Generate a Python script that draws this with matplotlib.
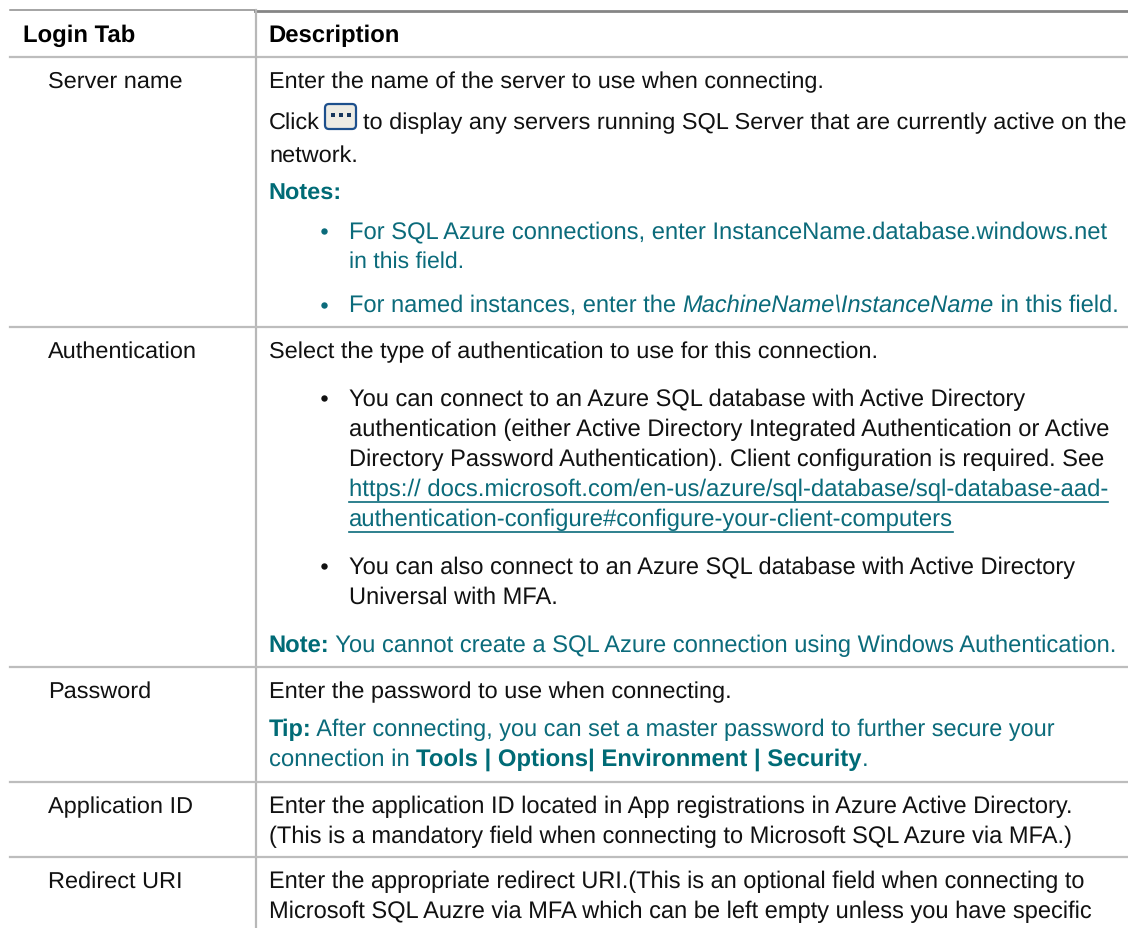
import matplotlib
matplotlib.use("Agg")
import matplotlib.pyplot as plt
from matplotlib.patches import FancyBboxPatch

plt.rcParams["text.hinting"] = "no_hinting"
plt.rcParams["text.hinting_factor"] = 8

W, H = 1128, 929
BLACK, TEAL = "#111111", "#0b6b7b"
NOTE = "#006b76"
FS = 16.9
HEAD_FS = 17.2

headers = ["Login Tab", "Description"]
rows = ["Server name", "Authentication", "Password", "Application ID", "Redirect URI"]
row_base = [88, 358, 698, 813, 888]
row_lines = [327, 667, 782, 857]

k = (BLACK, "normal", "normal")
t = (TEAL, "normal", "normal")
tb = (NOTE, "bold", "normal")
ti = (TEAL, "normal", "italic")
# (x, baseline, font size, [(text, style), ...])
body = [
    (269, 88, 16.85, [("Enter the name of the server to use when connecting.", k)]),
    (269, 129, 16.9, [("Click", k)]),
    (363, 129, 16.92, [("to display any servers running SQL Server that are currently active on the", k)]),
    (269, 162, 16.9, [("network.", k)]),
    (268.3, 200, 16.9, [("Notes:", tb)]),
    (349, 238, 17.15, [("For SQL Azure connections, enter InstanceName.database.windows.net", t)]),
    (349, 268, 16.6, [("in this field.", t)]),
    (349, 312, 16.97, [("For named instances, enter the ", t), ("MachineName\\InstanceName", ti), (" in this field.", t)]),
    (269, 358, 16.9, [("Select the type of authentication to use for this connection.", k)]),
    (349, 406, 17.05, [("You can connect to an Azure SQL database with Active Directory", k)]),
    (349, 436, 17.12, [("authentication (either Active Directory Integrated Authentication or Active", k)]),
    (349, 466, 17.06, [("Directory Password Authentication). Client configuration is required. See", k)]),
    (349, 496, 17.19, [("https:// docs.microsoft.com/en-us/azure/sql-database/sql-database-aad-", t)]),
    (349, 526, 17.21, [("authentication-configure#configure-your-client-computers", t)]),
    (349, 574, 17.02, [("You can also connect to an Azure SQL database with Active Directory", k)]),
    (349, 604, 17.06, [("Universal with MFA.", k)]),
    (268.3, 652, 17.08, [("Note:", tb), (" You cannot create a SQL Azure connection using Windows Authentication.", t)]),
    (269, 698, 16.9, [("Enter the password to use when connecting.", k)]),
    (268.3, 736, 16.95, [("Tip:", tb), (" After connecting, you can set a master password to further secure your", t)]),
    (269, 766, 17.19, [("connection in ", t), ("Tools | Options| Environment | Security", tb), (".", t)]),
    (269, 813, 17.05, [("Enter the application ID located in App registrations in Azure Active Directory.", k)]),
    (269, 843, 16.99, [("(This is a mandatory field when connecting to Microsoft SQL Azure via MFA.)", k)]),
    (269, 888, 16.95, [("Enter the appropriate redirect URI.(This is an optional field when connecting to", k)]),
    (269, 918, 17.01, [("Microsoft SQL Auzre via MFA which can be left empty unless you have specific", k)]),
]
bullets = [(324, 232, TEAL), (324, 306, TEAL), (324, 399, BLACK), (324, 567, BLACK)]
links = [496, 526]

fig = plt.figure(figsize=(W / 100, H / 100), dpi=100, facecolor="white")
ax = fig.add_axes([0, 0, 1, 1])
ax.set_xlim(0, W)
ax.set_ylim(H, 0)
ax.axis("off")
rend = fig.canvas.get_renderer()
FAM = "Liberation Sans"


def runs(x, y, fs, parts):
    for s, (c, w, st) in parts:
        ax.text(x, y, s, color=c, weight=w, style=st, family=FAM, fontsize=fs, va="baseline", ha="left")
        a = ax.text(0, 0, "|" + s + "|", weight=w, style=st, family=FAM, fontsize=fs)
        b = ax.text(0, 0, "||", weight=w, style=st, family=FAM, fontsize=fs)
        x += a.get_window_extent(rend).width - b.get_window_extent(rend).width
        a.remove()
        b.remove()
    return x


ax.plot([10, 255], [11, 11], color="#8c8c8c", lw=1.1)
ax.plot([255, W], [11.5, 11.5], color="#858585", lw=2.0)
ax.plot([10, W], [57.5, 57.5], color="#bdbdbd", lw=1.6)
ax.plot([255.5, 255.5], [11, H], color="#b8b8b8", lw=1.6)
for y in row_lines:
    ax.plot([10, W], [y + .5, y + .5], color="#bdbdbd", lw=1.6)

ax.text(23, 42, headers[0], weight="bold", color="#000000", family=FAM, fontsize=HEAD_FS, va="baseline")
ax.text(268.3, 42, headers[1], weight="bold", color="#000000", family=FAM, fontsize=HEAD_FS, va="baseline")
for s, y in zip(rows, row_base):
    ax.text(48, y, s, color=BLACK, family=FAM, fontsize=FS, va="baseline")

for x, y, fs, parts in body:
    end = runs(x, y, fs, parts)
    if y in links:
        ax.plot([x, end], [y + 6.5, y + 6.5], color=TEAL, lw=1.2)
for x, y, c in bullets:
    ax.plot([x], [y], "o", color=c, ms=4.6, mew=0)

ax.add_patch(FancyBboxPatch((325, 105), 31, 25, boxstyle="round,pad=0,rounding_size=4",
                            fc="#ecebe4", ec="#1c4f8c", lw=1.6))
for dx in (333, 341, 349):
    ax.plot([dx], [115.5], "s", color="#16365c", ms=2.6, mew=0)

fig.savefig("out.png", dpi=100, facecolor="white")
